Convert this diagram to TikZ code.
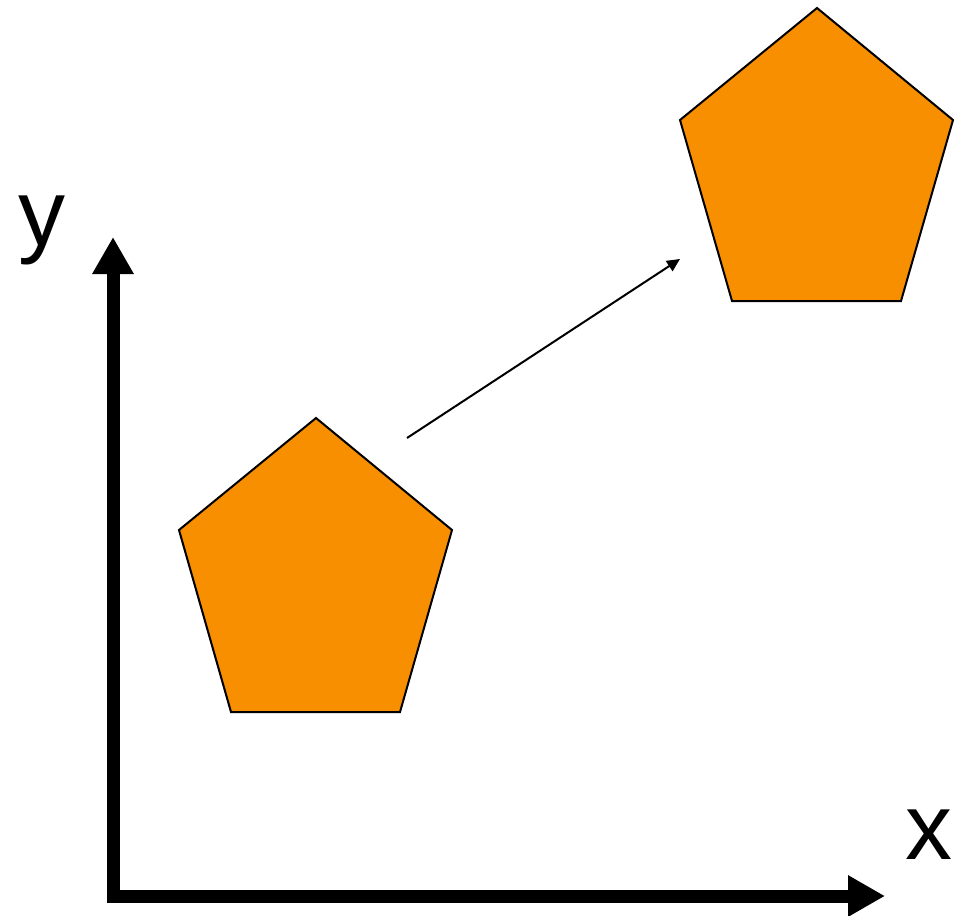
\documentclass[tikz,border=0pt]{standalone}
\usepackage{fontspec}
\setmainfont{Liberation Sans}
\usetikzlibrary{arrows.meta}
\definecolor{penta}{RGB}{248,143,0}
\tikzset{
  pentashape/.style={fill=penta,draw=black,line width=1pt,line join=miter},
  axisline/.style={line width=6.5pt,-{Triangle[width=19.5pt,length=18.5pt]}},
  moveline/.style={line width=1pt,-{Triangle[width=6pt,length=6.5pt]}},
  axislabel/.style={font=\fontsize{47}{47}\selectfont,inner sep=0pt}
}
\begin{document}
\begin{tikzpicture}[x=0.5pt,y=-0.5pt]
\useasboundingbox (0,0) rectangle (962,915);
% pentagons
\draw[pentashape] (316,418) -- (452,530) -- (400,712) -- (231,712) -- (179,530) -- cycle;
\draw[pentashape] (817,8) -- (953,120) -- (901,301) -- (732,301) -- (680,120) -- cycle;
% axes
\coordinate (origin) at (106.5,896);
\coordinate (ytip) at (113,237);
\coordinate (xtip) at (885,896);
\coordinate (ybase) at (113,902.5);
\draw[axisline] (ybase) -- (ytip);
\draw[axisline] (origin) -- (xtip);
% movement arrow
\coordinate (mstart) at (407,438);
\coordinate (mend) at (680,259);
\draw[moveline] (mstart) -- (mend);
% labels
\node[axislabel,anchor=base] (ylab) at (42,245) {y};
\node[axislabel,anchor=base] (xlab) at (929,859) {x};
\end{tikzpicture}
\end{document}
